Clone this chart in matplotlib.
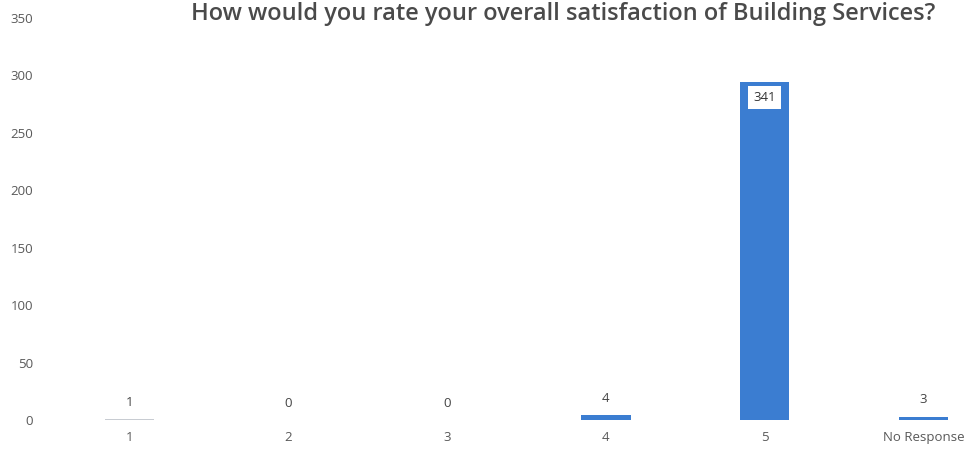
import matplotlib
matplotlib.use("Agg")
import matplotlib.pyplot as plt

categories = ["1", "2", "3", "4", "5", "No Response"]
counts = [1, 0, 0, 4, 341, 3]
# bar heights as drawn on the scanned chart (the "5" bar stops near 294)
bar_heights = [1, 0, 0, 4, 294, 3]
yticks = [0, 50, 100, 150, 200, 250, 300, 350]

plt.rcParams["font.family"] = ["Open Sans", "DejaVu Sans"]
GREY = "#595959"
BLUE = "#3b7dd1"

fig = plt.figure(figsize=(9.74, 4.5), dpi=100)
ax = fig.add_axes([50 / 974, 30 / 450, 953 / 974, 402 / 450])

x = list(range(len(categories)))
colors = [BLUE] * len(categories)
colors[0] = "#c8ccd2"
ax.bar(x, bar_heights, width=0.31, color=colors)

for xi, h, c in zip(x, bar_heights, counts):
    if h > 50:
        ax.annotate(str(c), (xi, h), xytext=(0, -11), textcoords="offset points",
                    ha="center", va="center", fontsize=9.5, color="#333333",
                    bbox=dict(boxstyle="square,pad=0.4", fc="white", ec="none"))
    else:
        ax.annotate(str(c), (xi, h), xytext=(0, 12), textcoords="offset points",
                    ha="center", va="center", fontsize=9.5, color="#444444")

ax.set_xlim(-0.5, 5.5)
ax.set_ylim(0, 350)
ax.set_xticks(x)
ax.set_xticklabels(categories)
ax.set_yticks(yticks)
ax.tick_params(axis="both", length=0, labelsize=9.5, colors=GREY)
ax.tick_params(axis="y", pad=12)
ax.tick_params(axis="x", pad=8)
for s in ax.spines.values():
    s.set_visible(False)

fig.text(563 / 974, 1 - 2 / 450, "How would you rate your overall satisfaction of Building Services?",
         ha="center", va="top", fontsize=17, color="#4a4a4a", fontweight="semibold")

fig.savefig("out.png", dpi=100)
